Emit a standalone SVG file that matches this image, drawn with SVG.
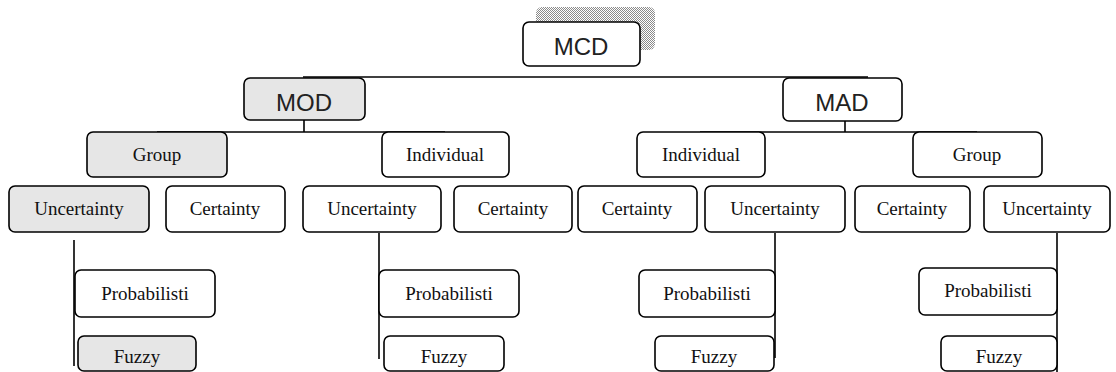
<svg xmlns="http://www.w3.org/2000/svg" width="1116" height="372" viewBox="0 0 1116 372">
<defs>
<pattern id="dots" width="2" height="2" patternUnits="userSpaceOnUse">
<rect width="2" height="2" fill="#ffffff"/>
<rect width="1" height="1" fill="#8a8a8a"/>
<rect x="1" y="1" width="1" height="1" fill="#8a8a8a"/>
</pattern>
</defs>
<style>
.box{fill:#ffffff;stroke:#000;stroke-width:1.6}
.grey{fill:#e6e6e6}
.big{font-family:"Liberation Sans",Arial,sans-serif;font-size:24px;fill:#222;text-anchor:middle}
.t{font-family:"Liberation Serif","Times New Roman",serif;font-size:19px;fill:#111;text-anchor:middle}
.ln{stroke:#000;stroke-width:1.6;fill:none}
</style>
<rect width="1116" height="372" fill="#ffffff"/>

<g id="connectors">
<line class="ln" x1="303" y1="77" x2="868" y2="77"/>
<line class="ln" x1="304" y1="119" x2="304" y2="132"/>
<line class="ln" x1="157" y1="132" x2="445" y2="132"/>
<line class="ln" x1="845" y1="121" x2="845" y2="132"/>
<line class="ln" x1="700" y1="132" x2="977" y2="132"/>
<line class="ln" x1="74" y1="240" x2="74" y2="366"/>
<line class="ln" x1="379" y1="233" x2="379" y2="359"/>
<line class="ln" x1="775" y1="233" x2="775" y2="358"/>
<line class="ln" x1="1057" y1="233" x2="1057" y2="372"/>
</g>

<g id="mcd">
<rect x="536" y="7" width="119" height="43" rx="6" fill="url(#dots)"/>
<rect class="box" x="523" y="22" width="117" height="44" rx="6"/>
<text class="big" x="581" y="55">MCD</text>
</g>
<g id="mod">
<rect class="box grey" x="244" y="78" width="121" height="42" rx="6"/>
<text class="big" x="304" y="111">MOD</text>
</g>
<g id="mad">
<rect class="box" x="783" y="78" width="119" height="43" rx="6"/>
<text class="big" x="842" y="111">MAD</text>
</g>

<g id="group-l">
<rect class="box grey" x="87" y="132" width="140" height="45" rx="6"/>
<text class="t" x="157" y="161">Group</text>
</g>
<g id="individual-l">
<rect class="box" x="382" y="132" width="127" height="45" rx="6"/>
<text class="t" x="445" y="161">Individual</text>
</g>
<g id="individual-r">
<rect class="box" x="637" y="132" width="128" height="45" rx="6"/>
<text class="t" x="701" y="161">Individual</text>
</g>
<g id="group-r">
<rect class="box" x="913" y="132" width="129" height="45" rx="6"/>
<text class="t" x="977" y="161">Group</text>
</g>

<g id="uncertainty-1">
<rect class="box grey" x="9" y="186" width="140" height="46" rx="6"/>
<text class="t" x="79" y="215">Uncertainty</text>
</g>
<g id="certainty-1">
<rect class="box" x="166" y="186" width="119" height="46" rx="6"/>
<text class="t" x="225" y="215">Certainty</text>
</g>
<g id="uncertainty-2">
<rect class="box" x="303" y="186" width="138" height="46" rx="6"/>
<text class="t" x="372" y="215">Uncertainty</text>
</g>
<g id="certainty-2">
<rect class="box" x="454" y="186" width="118" height="46" rx="6"/>
<text class="t" x="513" y="215">Certainty</text>
</g>
<g id="certainty-3">
<rect class="box" x="578" y="186" width="119" height="46" rx="6"/>
<text class="t" x="637" y="215">Certainty</text>
</g>
<g id="uncertainty-3">
<rect class="box" x="705" y="186" width="140" height="46" rx="6"/>
<text class="t" x="775" y="215">Uncertainty</text>
</g>
<g id="certainty-4">
<rect class="box" x="855" y="186" width="115" height="46" rx="6"/>
<text class="t" x="912" y="215">Certainty</text>
</g>
<g id="uncertainty-4">
<rect class="box" x="984" y="186" width="126" height="46" rx="6"/>
<text class="t" x="1047" y="215">Uncertainty</text>
</g>

<g id="probabilisti-1">
<rect class="box" x="75" y="270" width="140" height="47" rx="6"/>
<text class="t" x="145" y="300">Probabilisti</text>
</g>
<g id="fuzzy-1">
<rect class="box grey" x="78" y="336" width="118" height="35" rx="6"/>
<text class="t" x="137" y="363">Fuzzy</text>
</g>
<g id="probabilisti-2">
<rect class="box" x="379" y="270" width="140" height="47" rx="6"/>
<text class="t" x="449" y="300">Probabilisti</text>
</g>
<g id="fuzzy-2">
<rect class="box" x="384" y="336" width="120" height="35" rx="6"/>
<text class="t" x="444" y="363">Fuzzy</text>
</g>
<g id="probabilisti-3">
<rect class="box" x="639" y="270" width="136" height="47" rx="6"/>
<text class="t" x="707" y="300">Probabilisti</text>
</g>
<g id="fuzzy-3">
<rect class="box" x="655" y="336" width="119" height="35" rx="6"/>
<text class="t" x="714" y="363">Fuzzy</text>
</g>
<g id="probabilisti-4">
<rect class="box" x="919" y="268" width="138" height="47" rx="6"/>
<text class="t" x="988" y="297">Probabilisti</text>
</g>
<g id="fuzzy-4">
<rect class="box" x="941" y="336" width="116" height="35" rx="6"/>
<text class="t" x="999" y="363">Fuzzy</text>
</g>
</svg>
